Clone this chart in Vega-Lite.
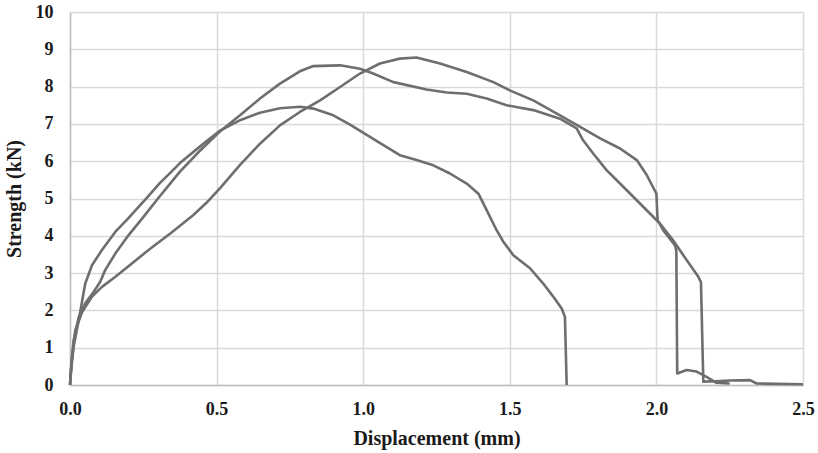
{
  "$schema": "https://vega.github.io/schema/vega-lite/v6.json",
  "width": 733,
  "height": 373,
  "autosize": {"type": "none"},
  "padding": {"left": 70, "top": 12, "right": 15, "bottom": 68},
  "background": "white",
  "config": {
    "view": {"stroke": null},
    "axis": {
      "labelFont": "Liberation Serif",
      "labelFontWeight": "bold",
      "labelFontSize": 18,
      "labelColor": "#1a1a1a",
      "labelFlush": false,
      "labelOverlap": false,
      "titleFont": "Liberation Serif",
      "titleFontWeight": "bold",
      "titleColor": "#1a1a1a",
      "gridColor": "#d9d9d9",
      "gridWidth": 1.5,
      "domainColor": "#bfbfbf",
      "domainWidth": 1.5,
      "ticks": false
    }
  },
  "data": {
    "values": [
      {"s": "A", "x": 0, "y": 0},
      {"s": "A", "x": 0.005, "y": 0.5},
      {"s": "A", "x": 0.0125, "y": 1.03},
      {"s": "A", "x": 0.03, "y": 1.74},
      {"s": "A", "x": 0.041, "y": 2.23},
      {"s": "A", "x": 0.052, "y": 2.72},
      {"s": "A", "x": 0.075, "y": 3.21},
      {"s": "A", "x": 0.109, "y": 3.62},
      {"s": "A", "x": 0.155, "y": 4.11},
      {"s": "A", "x": 0.193, "y": 4.42},
      {"s": "A", "x": 0.262, "y": 5.02},
      {"s": "A", "x": 0.307, "y": 5.42},
      {"s": "A", "x": 0.341, "y": 5.68},
      {"s": "A", "x": 0.375, "y": 5.95},
      {"s": "A", "x": 0.421, "y": 6.25},
      {"s": "A", "x": 0.46, "y": 6.5},
      {"s": "A", "x": 0.512, "y": 6.82},
      {"s": "A", "x": 0.58, "y": 7.1},
      {"s": "A", "x": 0.648, "y": 7.3},
      {"s": "A", "x": 0.716, "y": 7.42},
      {"s": "A", "x": 0.784, "y": 7.46},
      {"s": "A", "x": 0.83, "y": 7.41},
      {"s": "A", "x": 0.898, "y": 7.23},
      {"s": "A", "x": 0.955, "y": 6.98},
      {"s": "A", "x": 1.023, "y": 6.65},
      {"s": "A", "x": 1.069, "y": 6.43},
      {"s": "A", "x": 1.125, "y": 6.16},
      {"s": "A", "x": 1.182, "y": 6.03},
      {"s": "A", "x": 1.239, "y": 5.89},
      {"s": "A", "x": 1.296, "y": 5.67},
      {"s": "A", "x": 1.353, "y": 5.4},
      {"s": "A", "x": 1.393, "y": 5.13},
      {"s": "A", "x": 1.421, "y": 4.69},
      {"s": "A", "x": 1.455, "y": 4.15},
      {"s": "A", "x": 1.478, "y": 3.84},
      {"s": "A", "x": 1.512, "y": 3.48},
      {"s": "A", "x": 1.569, "y": 3.13},
      {"s": "A", "x": 1.614, "y": 2.72},
      {"s": "A", "x": 1.648, "y": 2.37},
      {"s": "A", "x": 1.677, "y": 2.05},
      {"s": "A", "x": 1.688, "y": 1.83},
      {"s": "A", "x": 1.694, "y": 0},

      {"s": "B", "x": 0, "y": 0},
      {"s": "B", "x": 0.005, "y": 0.6},
      {"s": "B", "x": 0.0125, "y": 1.2},
      {"s": "B", "x": 0.03, "y": 1.83},
      {"s": "B", "x": 0.052, "y": 2.19},
      {"s": "B", "x": 0.081, "y": 2.5},
      {"s": "B", "x": 0.103, "y": 2.77},
      {"s": "B", "x": 0.12, "y": 3.08},
      {"s": "B", "x": 0.155, "y": 3.53},
      {"s": "B", "x": 0.2, "y": 4.02},
      {"s": "B", "x": 0.25, "y": 4.5},
      {"s": "B", "x": 0.3, "y": 5.0},
      {"s": "B", "x": 0.375, "y": 5.72},
      {"s": "B", "x": 0.443, "y": 6.28},
      {"s": "B", "x": 0.512, "y": 6.8},
      {"s": "B", "x": 0.58, "y": 7.23},
      {"s": "B", "x": 0.648, "y": 7.68},
      {"s": "B", "x": 0.716, "y": 8.08},
      {"s": "B", "x": 0.784, "y": 8.41},
      {"s": "B", "x": 0.83, "y": 8.55},
      {"s": "B", "x": 0.921, "y": 8.57},
      {"s": "B", "x": 0.989, "y": 8.48},
      {"s": "B", "x": 1.034, "y": 8.35},
      {"s": "B", "x": 1.103, "y": 8.12},
      {"s": "B", "x": 1.216, "y": 7.92},
      {"s": "B", "x": 1.285, "y": 7.84},
      {"s": "B", "x": 1.353, "y": 7.81},
      {"s": "B", "x": 1.421, "y": 7.68},
      {"s": "B", "x": 1.489, "y": 7.5},
      {"s": "B", "x": 1.58, "y": 7.37},
      {"s": "B", "x": 1.671, "y": 7.14},
      {"s": "B", "x": 1.728, "y": 6.88},
      {"s": "B", "x": 1.75, "y": 6.56},
      {"s": "B", "x": 1.785, "y": 6.2},
      {"s": "B", "x": 1.83, "y": 5.76},
      {"s": "B", "x": 1.899, "y": 5.22},
      {"s": "B", "x": 1.955, "y": 4.78},
      {"s": "B", "x": 2.012, "y": 4.33},
      {"s": "B", "x": 2.057, "y": 3.88},
      {"s": "B", "x": 2.103, "y": 3.35},
      {"s": "B", "x": 2.143, "y": 2.9},
      {"s": "B", "x": 2.152, "y": 2.75},
      {"s": "B", "x": 2.16, "y": 0.09},
      {"s": "B", "x": 2.2, "y": 0.1},
      {"s": "B", "x": 2.25, "y": 0.12},
      {"s": "B", "x": 2.319, "y": 0.13},
      {"s": "B", "x": 2.342, "y": 0.04},
      {"s": "B", "x": 2.5, "y": 0.02},

      {"s": "C", "x": 0, "y": 0},
      {"s": "C", "x": 0.005, "y": 0.6},
      {"s": "C", "x": 0.018, "y": 1.47},
      {"s": "C", "x": 0.041, "y": 1.95},
      {"s": "C", "x": 0.075, "y": 2.37},
      {"s": "C", "x": 0.109, "y": 2.63},
      {"s": "C", "x": 0.155, "y": 2.9},
      {"s": "C", "x": 0.211, "y": 3.26},
      {"s": "C", "x": 0.268, "y": 3.62},
      {"s": "C", "x": 0.342, "y": 4.06},
      {"s": "C", "x": 0.42, "y": 4.55},
      {"s": "C", "x": 0.47, "y": 4.92},
      {"s": "C", "x": 0.512, "y": 5.28},
      {"s": "C", "x": 0.58, "y": 5.9},
      {"s": "C", "x": 0.648, "y": 6.47},
      {"s": "C", "x": 0.716, "y": 6.96},
      {"s": "C", "x": 0.784, "y": 7.32},
      {"s": "C", "x": 0.853, "y": 7.63},
      {"s": "C", "x": 0.921, "y": 7.99},
      {"s": "C", "x": 0.989, "y": 8.35},
      {"s": "C", "x": 1.057, "y": 8.62},
      {"s": "C", "x": 1.125, "y": 8.75},
      {"s": "C", "x": 1.182, "y": 8.78},
      {"s": "C", "x": 1.262, "y": 8.62},
      {"s": "C", "x": 1.353, "y": 8.39},
      {"s": "C", "x": 1.444, "y": 8.12},
      {"s": "C", "x": 1.5, "y": 7.9},
      {"s": "C", "x": 1.58, "y": 7.63},
      {"s": "C", "x": 1.671, "y": 7.23},
      {"s": "C", "x": 1.74, "y": 6.92},
      {"s": "C", "x": 1.808, "y": 6.61},
      {"s": "C", "x": 1.876, "y": 6.34},
      {"s": "C", "x": 1.933, "y": 6.03},
      {"s": "C", "x": 1.967, "y": 5.63},
      {"s": "C", "x": 2.0, "y": 5.13},
      {"s": "C", "x": 2.004, "y": 4.42},
      {"s": "C", "x": 2.023, "y": 4.15},
      {"s": "C", "x": 2.063, "y": 3.75},
      {"s": "C", "x": 2.068, "y": 3.6},
      {"s": "C", "x": 2.071, "y": 0.31},
      {"s": "C", "x": 2.103, "y": 0.4},
      {"s": "C", "x": 2.137, "y": 0.36},
      {"s": "C", "x": 2.171, "y": 0.22},
      {"s": "C", "x": 2.205, "y": 0.06},
      {"s": "C", "x": 2.25, "y": 0.04}
    ]
  },
  "mark": {"type": "line", "color": "#6e6e6e", "strokeWidth": 2.6, "strokeJoin": "round"},
  "encoding": {
    "x": {
      "field": "x",
      "type": "quantitative",
      "scale": {"domain": [0, 2.5], "nice": false, "zero": true},
      "axis": {
        "values": [0, 0.5, 1, 1.5, 2, 2.5],
        "format": ".1f",
        "labelPadding": 15,
        "title": "Displacement (mm)",
        "titleFontSize": 20,
        "titlePadding": 10
      }
    },
    "y": {
      "field": "y",
      "type": "quantitative",
      "scale": {"domain": [0, 10], "nice": false},
      "axis": {
        "values": [0, 1, 2, 3, 4, 5, 6, 7, 8, 9, 10],
        "labelPadding": 17,
        "title": "Strength (kN)",
        "titleFontSize": 20,
        "titlePadding": 11
      }
    },
    "detail": {"field": "s", "type": "nominal"}
  }
}
